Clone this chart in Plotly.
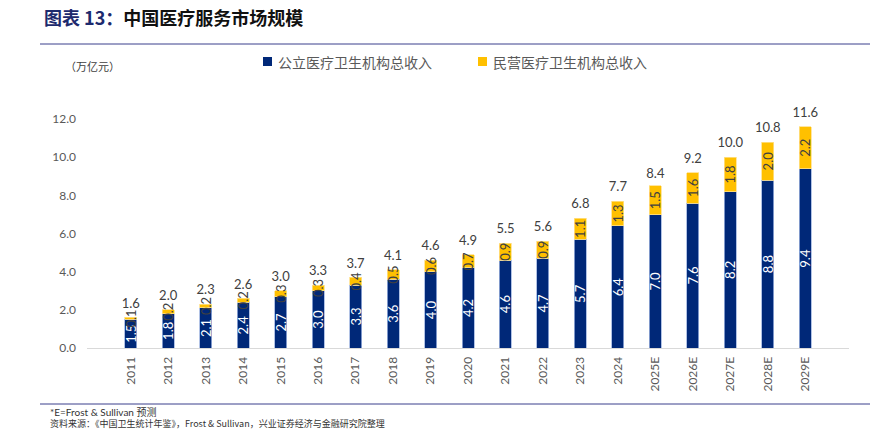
import plotly.graph_objects as go

years = ["2011", "2012", "2013", "2014", "2015", "2016", "2017", "2018", "2019", "2020",
         "2021", "2022", "2023", "2024", "2025E", "2026E", "2027E", "2028E", "2029E"]
public = [1.5, 1.8, 2.1, 2.4, 2.7, 3.0, 3.3, 3.6, 4.0, 4.2,
          4.6, 4.7, 5.7, 6.4, 7.0, 7.6, 8.2, 8.8, 9.4]
private = [0.1, 0.2, 0.2, 0.2, 0.3, 0.3, 0.4, 0.5, 0.6, 0.7,
           0.9, 0.9, 1.1, 1.3, 1.5, 1.6, 1.8, 2.0, 2.2]
totals = [1.6, 2.0, 2.3, 2.6, 3.0, 3.3, 3.7, 4.1, 4.6, 4.9,
          5.5, 5.6, 6.8, 7.7, 8.4, 9.2, 10.0, 10.8, 11.6]
name_public = "公立医疗卫生机构总收入"
name_private = "民营医疗卫生机构总收入"
y_ticks = [0, 2, 4, 6, 8, 10, 12]

W, H = 870, 431
L, R, T, B = 87, 849, 81, 348
NAVY = "#002878"
GOLD = "#FFC000"
RULE = "#3B3F8C"
FONT = "Lato, Noto Sans CJK SC, sans-serif"
CJK = "Noto Sans CJK SC, sans-serif"


def px(x):
    return (x - L) / (R - L)


def py(y):
    return (B - y) / (B - T)


fig = go.Figure()
fig.add_trace(go.Bar(
    x=years, y=public, name=name_public,
    marker=dict(color=NAVY, line=dict(color="#9DB3DE", width=0.8)),
    text=[f"{v:.1f}" for v in public], textposition="inside", textangle=-90,
    insidetextanchor="middle", constraintext="none",
    textfont=dict(color="white", size=13, family=FONT),
))
fig.add_trace(go.Bar(
    x=years, y=private, name=name_private,
    marker=dict(color=GOLD, line=dict(color="#FFE08A", width=0.8)),
    text=[f"{v:.1f}" for v in private], textposition="inside", textangle=-90,
    insidetextanchor="middle", constraintext="none",
    textfont=dict(color="#404040", size=13, family=FONT),
))
fig.add_trace(go.Scatter(
    x=years, y=totals, mode="markers+text", text=[f"{v:.1f}" for v in totals],
    marker=dict(size=9, opacity=0),
    textposition="top center", textfont=dict(color="#404040", size=13, family=FONT),
    showlegend=False, cliponaxis=False, hoverinfo="skip",
))

shapes = [
    dict(type="line", xref="paper", yref="paper", x0=px(40), x1=px(870), y0=py(44), y1=py(44),
         line=dict(color=RULE, width=1), layer="above"),
    dict(type="line", xref="paper", yref="paper", x0=px(40), x1=px(870), y0=py(404), y1=py(404),
         line=dict(color=RULE, width=1), layer="above"),
    dict(type="rect", xref="paper", yref="paper", x0=px(263), x1=px(272), y0=py(57), y1=py(66),
         fillcolor=NAVY, line=dict(width=0)),
    dict(type="rect", xref="paper", yref="paper", x0=px(478), x1=px(487), y0=py(57), y1=py(66),
         fillcolor=GOLD, line=dict(width=0)),
]

annotations = [
    dict(text="<b><span style='color:#1D2A6E'>图表 13：</span>中国医疗服务市场规模</b>",
         x=px(42), y=py(17), xanchor="left", yanchor="middle",
         font=dict(size=18, color="#111111", family=CJK)),
    dict(text="（万亿元）", x=px(63), y=py(66), xanchor="left", yanchor="middle",
         font=dict(size=11, color="#404040", family=CJK)),
    dict(text=name_public, x=px(276), y=py(62), xanchor="left", yanchor="middle",
         font=dict(size=14, color="#595959", family=CJK)),
    dict(text=name_private, x=px(491), y=py(62), xanchor="left", yanchor="middle",
         font=dict(size=14, color="#595959", family=CJK)),
    dict(text="*E=Frost & Sullivan 预测", x=px(48), y=py(412), xanchor="left", yanchor="middle",
         font=dict(size=10, color="#333333", family=FONT)),
    dict(text="资料来源：《中国卫生统计年鉴》，Frost & Sullivan，兴业证券经济与金融研究院整理",
         x=px(48), y=py(423), xanchor="left", yanchor="middle",
         font=dict(size=9, color="#333333", family=CJK)),
]
for a in annotations:
    a.update(xref="paper", yref="paper", showarrow=False)

fig.update_layout(
    width=W, height=H, barmode="stack", bargap=0.68,
    margin=dict(l=L, r=W - R, t=T, b=H - B, pad=0, autoexpand=False),
    paper_bgcolor="white", plot_bgcolor="white", showlegend=False,
    shapes=shapes, annotations=annotations,
    xaxis=dict(type="category", tickangle=-90, showline=True, linecolor="#D9D9D9", linewidth=1,
               ticks="", tickfont=dict(size=12, color="#595959", family=FONT), showgrid=False,
               automargin=False, ticklabelstandoff=3),
    yaxis=dict(range=[0, 14], tickvals=y_ticks, ticktext=[f"{v:.1f}" for v in y_ticks],
               showgrid=False, zeroline=False, showline=False, ticks="",
               tickfont=dict(size=12, color="#595959", family=FONT),
               automargin=False, ticklabelstandoff=10),
    uniformtext=dict(mode=False),
)

fig.write_html("out.html", config={"displayModeBar": False},
               post_script="document.body.style.margin='0';document.body.style.overflow='hidden';")
